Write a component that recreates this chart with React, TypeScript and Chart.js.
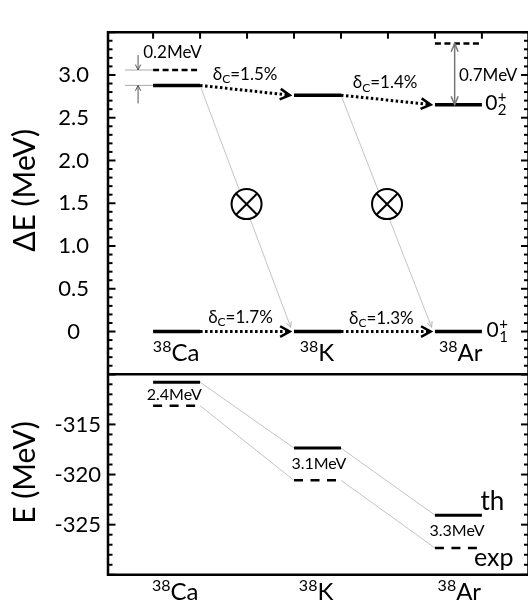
import React, { useEffect, useRef } from "react";
import { Chart, registerables } from "chart.js";

Chart.register(...registerables);

const FONT = "Lato, 'Open Sans', 'DejaVu Sans', sans-serif";

// ---- categories (nuclei) ----
const nuclideMass = ["38", "38", "38"];
const nuclideSymbol = ["Ca", "K", "Ar"];
const levelFrom = [1, 4, 7];
const levelTo = [2, 5, 8];

// ---- top panel: excitation energies ΔE (MeV) ----
const groundState = [0, 0, 0];
const excitedTheory = [2.878, 2.764, 2.653];
const excitedExpCa = 3.058;
const excitedExpAr = 3.369;
const deltaCExcited = [1.5, 1.4];
const deltaCGround = [1.7, 1.3];
const gapCaLabel = "0.2MeV";
const gapArLabel = "0.7MeV";

// ---- bottom panel: binding energies E (MeV) ----
const energyTheory = [-310.79, -317.36, -324.05];
const energyExp = [-313.13, -320.58, -327.32];
const energyDiffLabels = ["2.4MeV", "3.1MeV", "3.3MeV"];

// ---- axes ----
const topTickLabels = ["0", "0.5", "1.0", "1.5", "2.0", "2.5", "3.0"];
const bottomTickLabels = ["-315", "-320", "-325"];
const topAxisTicks = [1, 2, 3, 4, 5, 6, 7, 8];

const BLACK = "#000";
const GREY = "#c4c4c4";

type Pt = { x: number; y: number };
function seg(a: Pt, b: Pt, axis: string, color: string, width: number, dash: number[], order: number) {
  return {
    data: [a, b],
    yAxisID: axis,
    borderColor: color,
    borderWidth: width,
    borderDash: dash,
    borderCapStyle: "butt",
    pointRadius: 0,
    fill: false,
    showLine: true,
    order,
  };
}

const dottedArrows: { a: Pt; b: Pt }[] = [];
for (let i = 0; i < 2; i++) {
  dottedArrows.push({ a: { x: levelTo[i], y: excitedTheory[i] }, b: { x: levelFrom[i + 1] - 0.09, y: excitedTheory[i + 1] } });
  dottedArrows.push({ a: { x: levelTo[i], y: groundState[i] }, b: { x: levelFrom[i + 1] - 0.09, y: groundState[i + 1] } });
}
const greyArrows: { a: Pt; b: Pt }[] = [];
for (let i = 0; i < 2; i++) {
  greyArrows.push({ a: { x: levelTo[i], y: excitedTheory[i] }, b: { x: levelFrom[i + 1] - 0.07, y: 0.05 } });
}

const datasets: any[] = [];
for (let i = 0; i < 3; i++) {
  datasets.push(seg({ x: levelFrom[i], y: groundState[i] }, { x: levelTo[i], y: groundState[i] }, "y", BLACK, 3.5, [], 0));
  datasets.push(seg({ x: levelFrom[i], y: excitedTheory[i] }, { x: levelTo[i], y: excitedTheory[i] }, "y", BLACK, 3.5, [], 0));
  datasets.push(seg({ x: levelFrom[i], y: energyTheory[i] }, { x: levelTo[i], y: energyTheory[i] }, "y2", BLACK, 3, [], 0));
  datasets.push(seg({ x: levelFrom[i], y: energyExp[i] }, { x: levelTo[i] - 0.08, y: energyExp[i] }, "y2", BLACK, 2.5, [9, 7.5], 0));
}
datasets.push(seg({ x: levelFrom[0], y: excitedExpCa }, { x: levelTo[0] - 0.03, y: excitedExpCa }, "y", BLACK, 2.5, [6, 3.5], 0));
datasets.push(seg({ x: levelFrom[2], y: excitedExpAr }, { x: levelTo[2] - 0.06, y: excitedExpAr }, "y", BLACK, 2.5, [6, 3.5], 0));
dottedArrows.forEach((s) => datasets.push(seg(s.a, s.b, "y", BLACK, 3, [2.5, 2.5], 1)));
greyArrows.forEach((s) => datasets.push(seg(s.a, s.b, "y", GREY, 1, [], 2)));
for (let i = 0; i < 2; i++) {
  datasets.push(seg({ x: levelTo[i], y: energyTheory[i] }, { x: levelFrom[i + 1], y: energyTheory[i + 1] }, "y2", GREY, 1, [], 2));
  datasets.push(seg({ x: levelTo[i], y: energyExp[i] }, { x: levelFrom[i + 1], y: energyExp[i + 1] }, "y2", GREY, 1, [], 2));
}
datasets.push(seg({ x: 0.4, y: excitedExpCa }, { x: levelFrom[0], y: excitedExpCa }, "y", "#aaaaaa", 1, [], 2));
datasets.push(seg({ x: 0.4, y: excitedTheory[0] }, { x: levelFrom[0], y: excitedTheory[0] }, "y", "#aaaaaa", 1, [], 2));

function isLabel(list: string[], v: number) {
  return list.find((s) => Math.abs(parseFloat(s) - v) < 1e-6);
}

function txt(ctx: CanvasRenderingContext2D, s: string, x: number, y: number, size: number, align: CanvasTextAlign = "left", baseline: CanvasTextBaseline = "middle", color = "#000") {
  ctx.font = `${size}px ${FONT}`;
  ctx.fillStyle = color;
  ctx.textAlign = align;
  ctx.textBaseline = baseline;
  ctx.fillText(s, x, y);
}
function tw(ctx: CanvasRenderingContext2D, s: string, size: number) {
  ctx.font = `${size}px ${FONT}`;
  return ctx.measureText(s).width;
}
function seg2(ctx: CanvasRenderingContext2D, x1: number, y1: number, x2: number, y2: number, color: string, w: number) {
  ctx.beginPath();
  ctx.moveTo(x1, y1);
  ctx.lineTo(x2, y2);
  ctx.strokeStyle = color;
  ctx.lineWidth = w;
  ctx.setLineDash([]);
  ctx.stroke();
}
function head(ctx: CanvasRenderingContext2D, x1: number, y1: number, x2: number, y2: number, len: number, ang: number, color: string, w: number) {
  const a = Math.atan2(y2 - y1, x2 - x1);
  ctx.beginPath();
  ctx.moveTo(x2 - len * Math.cos(a - ang), y2 - len * Math.sin(a - ang));
  ctx.lineTo(x2, y2);
  ctx.lineTo(x2 - len * Math.cos(a + ang), y2 - len * Math.sin(a + ang));
  ctx.strokeStyle = color;
  ctx.lineWidth = w;
  ctx.setLineDash([]);
  ctx.lineJoin = "miter";
  ctx.stroke();
}
function deltaLabel(ctx: CanvasRenderingContext2D, val: number, cx: number, cy: number) {
  const main = 17, sub = 12;
  const s3 = `=${val.toFixed(1)}%`;
  const w1 = tw(ctx, "δ", main), w2 = tw(ctx, "C", sub), w3 = tw(ctx, s3, main);
  let x = cx - (w1 + w2 + w3) / 2;
  txt(ctx, "δ", x, cy, main);
  x += w1;
  txt(ctx, "C", x, cy + 5, sub);
  x += w2;
  txt(ctx, s3, x, cy, main);
}
function nuclide(ctx: CanvasRenderingContext2D, mass: string, sym: string, cx: number, base: number) {
  const ss = 24, ms = 16;
  const wm = tw(ctx, mass, ms), ws = tw(ctx, sym, ss);
  const x = cx - (wm + ws) / 2;
  txt(ctx, mass, x, base - 9, ms, "left", "alphabetic");
  txt(ctx, sym, x + wm, base, ss, "left", "alphabetic");
}
function stateLabel(ctx: CanvasRenderingContext2D, sub: string, x: number, cy: number) {
  txt(ctx, "0", x, cy, 21);
  const w = tw(ctx, "0", 21);
  txt(ctx, "+", x + w + 0.5, cy - 6, 15);
  txt(ctx, sub, x + w + 0.5, cy + 7, 15);
}

const annot = {
  id: "annot",
  afterDraw(chart: any) {
    const ctx: CanvasRenderingContext2D = chart.ctx;
    const ca = chart.chartArea;
    const xs = chart.scales.x, ys = chart.scales.y, ys2 = chart.scales.y2;
    const X = (v: number) => xs.getPixelForValue(v);
    const Y = (v: number) => ys.getPixelForValue(v);
    const Y2 = (v: number) => ys2.getPixelForValue(v);
    const rightEdge = ca.right + 1.5;
    ctx.save();
    // frame + divider
    seg2(ctx, ca.left, ca.top, rightEdge + 2, ca.top, BLACK, 2.5);
    seg2(ctx, ca.left, ca.bottom, rightEdge + 2, ca.bottom, BLACK, 2.5);
    seg2(ctx, ca.left, ys.bottom, rightEdge + 2, ys.bottom, BLACK, 2.5);
    seg2(ctx, ca.left, ca.top - 1.25, ca.left, ca.bottom + 1.25, BLACK, 2.5);
    seg2(ctx, rightEdge, ca.top - 1.25, rightEdge, ca.bottom + 1.25, BLACK, 2.5);

    // ticks (inward), left and right, from the scales' own ticks
    const tickScales: any[] = [[ys, 0.5], [ys2, 5]];
    tickScales.forEach((pair) => {
      const sc = pair[0], major = pair[1];
      const list: any[] = sc.ticks || [];
      for (let k = 0; k < list.length; k++) {
        const val = Number(list[k].value);
        const py = sc.getPixelForValue(val);
        const r = val / major;
        const isMajor = Math.abs(r - Math.round(r)) < 1e-6;
        const len = isMajor ? 7.5 : 4.5;
        seg2(ctx, ca.left, py, ca.left + len, py, BLACK, 2);
        seg2(ctx, rightEdge, py, rightEdge - len, py, BLACK, 2);
      }
    });
    topAxisTicks.forEach((v) => seg2(ctx, X(v), ca.top, X(v), ca.top + 6.5, BLACK, 2));

    greyArrows.forEach((s) => head(ctx, X(s.a.x), Y(s.a.y), X(s.b.x), Y(s.b.y), 6, 0.45, "#b0b0b0", 1));
    dottedArrows.forEach((s) => head(ctx, X(s.a.x), Y(s.a.y), X(s.b.x), Y(s.b.y), 11, 0.5, BLACK, 2.5));

    [[2.99, 1.49], [5.98, 1.49]].forEach(([cx0, cy0]) => {
      const cx = X(cx0), cy = Y(cy0), r = 15;
      ctx.beginPath();
      ctx.arc(cx, cy, r, 0, Math.PI * 2);
      ctx.fillStyle = "#fff";
      ctx.fill();
      ctx.lineWidth = 2;
      ctx.strokeStyle = BLACK;
      ctx.stroke();
      const d = r * Math.SQRT1_2;
      seg2(ctx, cx - d, cy - d, cx + d, cy + d, BLACK, 2);
      seg2(ctx, cx - d, cy + d, cx + d, cy - d, BLACK, 2);
    });

    const ax = X(0.68);
    seg2(ctx, ax, Y(3.233), ax, Y(excitedExpCa), "#555", 1);
    head(ctx, ax, Y(3.233), ax, Y(excitedExpCa), 6, 0.45, "#555", 1);
    seg2(ctx, ax, Y(2.667), ax, Y(excitedTheory[0]), "#555", 1);
    head(ctx, ax, Y(2.667), ax, Y(excitedTheory[0]), 6, 0.45, "#555", 1);
    txt(ctx, gapCaLabel, X(0.79), Y(3.267), 17);

    const bx = X(7.42);
    seg2(ctx, bx, Y(excitedExpAr), bx, Y(excitedTheory[2]), "#777", 1.5);
    head(ctx, bx, Y(excitedTheory[2]), bx, Y(excitedExpAr), 9, 0.4, "#777", 1.5);
    head(ctx, bx, Y(excitedExpAr), bx, Y(excitedTheory[2]), 9, 0.4, "#777", 1.5);
    txt(ctx, gapArLabel, X(7.51), Y(2.996), 17);

    deltaLabel(ctx, deltaCExcited[0], X(2.96), Y(3.011));
    deltaLabel(ctx, deltaCExcited[1], X(5.94), Y(2.906));
    deltaLabel(ctx, deltaCGround[0], X(2.86), Y(0.165));
    deltaLabel(ctx, deltaCGround[1], X(5.86), Y(0.158));

    stateLabel(ctx, "2", X(8.07), Y(excitedTheory[2]) - 1);
    stateLabel(ctx, "1", X(8.1), Y(groundState[2]) - 1);

    const topC = [1.49, 4.49, 7.55];
    for (let i = 0; i < 3; i++) nuclide(ctx, nuclideMass[i], nuclideSymbol[i], X(topC[i]), Y(-0.344));
    const botC = [1.47, 4.47, 7.52];
    for (let i = 0; i < 3; i++) nuclide(ctx, nuclideMass[i], nuclideSymbol[i], X(botC[i]), ca.bottom + 25);

    const diffPos = [[1.45, -312.09], [4.53, -318.98], [7.47, -325.64]];
    diffPos.forEach(([px, py], i) => txt(ctx, energyDiffLabels[i], X(px), Y2(py), 16, "center"));
    txt(ctx, "th", X(7.97), Y2(-322.67), 26);
    txt(ctx, "exp", X(7.83), Y2(-328.36), 25);

    ctx.save();
    ctx.translate(25, Y(1.65));
    ctx.rotate(-Math.PI / 2);
    txt(ctx, "ΔE (MeV)", 0, 0, 30, "center");
    ctx.restore();
    ctx.save();
    ctx.translate(25, Y2(-319.8));
    ctx.rotate(-Math.PI / 2);
    txt(ctx, "E (MeV)", 0, 0, 30, "center");
    ctx.restore();

    ctx.restore();
  },
};

export default function App() {
  const ref = useRef<HTMLCanvasElement>(null);
  useEffect(() => {
    const chart = new Chart(ref.current as HTMLCanvasElement, {
      type: "line",
      data: { datasets },
      options: {
        responsive: false,
        animation: false,
        layout: { padding: { left: 0, right: 1, top: 8, bottom: 28 } },
        plugins: { legend: { display: false }, tooltip: { enabled: false } },
        elements: { point: { radius: 0 }, line: { tension: 0 } },
        scales: {
          x: { type: "linear", min: 0.04, max: 8.96, display: false },
          y2: {
            type: "linear",
            position: "left",
            stack: "panels",
            stackWeight: 211,
            min: -330,
            max: -310,
            grid: { display: false, drawTicks: false },
            border: { display: false },
            ticks: {
              stepSize: 1,
              autoSkip: false,
              color: "#000",
              crossAlign: "center",
              padding: 7,
              font: { family: FONT, size: 22 },
              callback: (v: any) => isLabel(bottomTickLabels, Number(v)) || "",
            },
            afterFit: (s: any) => {
              s.width = 108;
            },
          },
          y: {
            type: "linear",
            position: "left",
            stack: "panels",
            stackWeight: 360,
            min: -0.5,
            max: 3.5,
            grid: { display: false, drawTicks: false },
            border: { display: false },
            ticks: {
              stepSize: 0.1,
              autoSkip: false,
              color: "#000",
              crossAlign: "center",
              padding: 19,
              font: { family: FONT, size: 22 },
              callback: (v: any) => isLabel(topTickLabels, Number(v)) || "",
            },
            afterFit: (s: any) => {
              s.width = 108;
            },
          },
        },
      } as any,
      plugins: [annot],
    });
    return () => chart.destroy();
  }, []);
  return (
    <div style={{ position: "absolute", left: 0, top: 0, width: 528, height: 607, background: "#fff" }}>
      <canvas ref={ref} width={528} height={607} style={{ display: "block" }} />
    </div>
  );
}
